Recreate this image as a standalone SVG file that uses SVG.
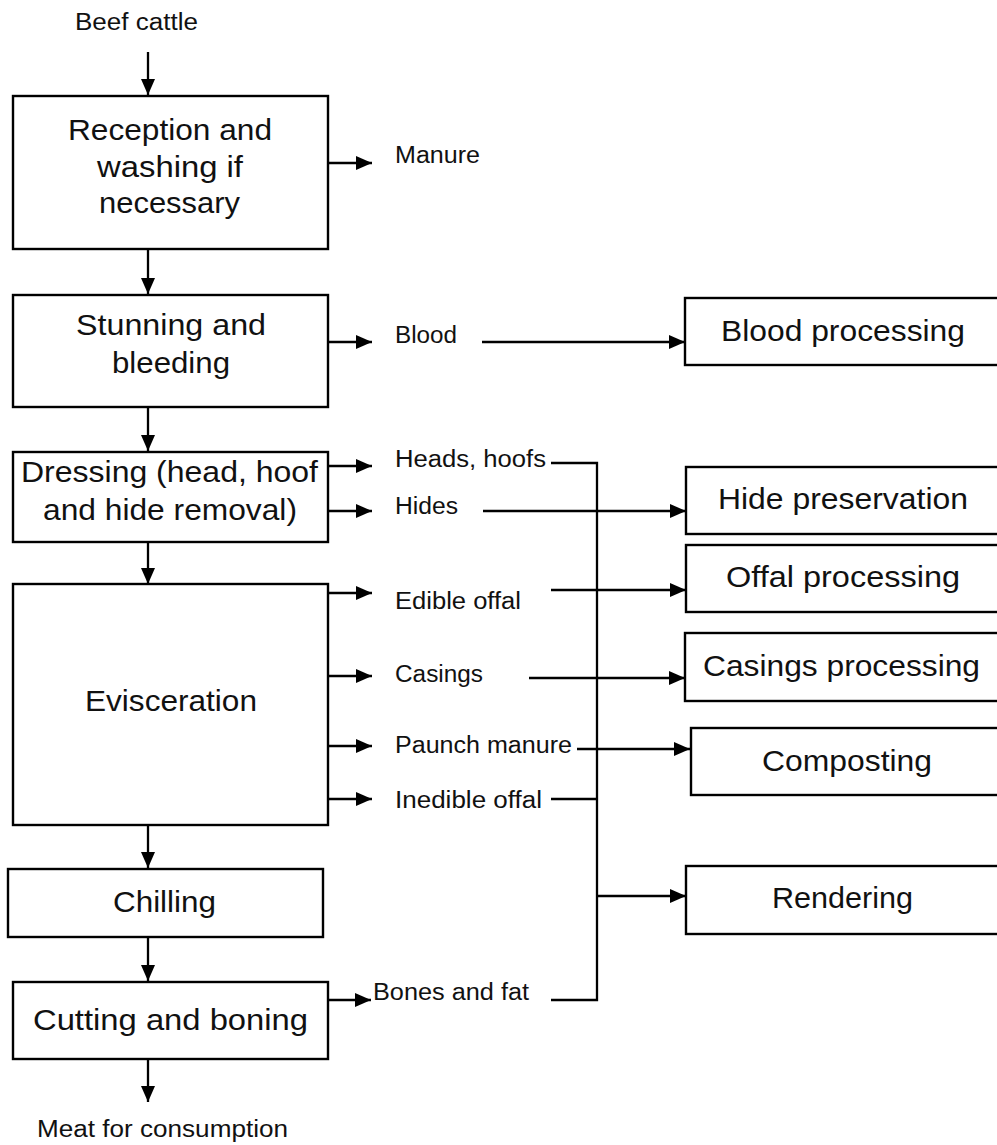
<svg xmlns="http://www.w3.org/2000/svg" width="997" height="1145" viewBox="0 0 997 1145">
<style>
.box{fill:#fff;stroke:#000;stroke-width:2.4}
.ln{fill:none;stroke:#000;stroke-width:2.3}
.ar{fill:none;stroke:#000;stroke-width:2.3;marker-end:url(#ah)}
.bt{font-family:"Liberation Sans",Arial,sans-serif;font-size:29px;fill:#111}
.lt{font-family:"Liberation Sans",Arial,sans-serif;font-size:23.5px;fill:#111}
</style>
<defs>
<marker id="ah" viewBox="0 0 16 14" refX="16" refY="7" markerWidth="16" markerHeight="14" markerUnits="userSpaceOnUse" orient="auto">
<path d="M0,0 L16,7 L0,14 z" fill="#000"/>
</marker>
</defs>
<rect width="997" height="1145" fill="#fff"/>

<g id="connectors">
<line class="ar" x1="148" y1="52" x2="148" y2="95"/>
<line class="ar" x1="328" y1="163" x2="372" y2="163"/>
<line class="ar" x1="148" y1="249" x2="148" y2="294"/>
<line class="ar" x1="328" y1="342" x2="372" y2="342"/>
<line class="ar" x1="482" y1="342" x2="685" y2="342"/>
<line class="ar" x1="148" y1="407" x2="148" y2="451"/>
<line class="ar" x1="328" y1="466" x2="372" y2="466"/>
<line class="ar" x1="326" y1="511" x2="372" y2="511"/>
<polyline class="ln" points="551,463 597,463 597,1000 551,1000"/>
<line class="ar" x1="483" y1="511" x2="686" y2="511"/>
<line class="ar" x1="148" y1="542" x2="148" y2="584"/>
<line class="ar" x1="326" y1="593" x2="372" y2="593"/>
<line class="ar" x1="551" y1="590" x2="686" y2="590"/>
<line class="ar" x1="326" y1="676" x2="372" y2="676"/>
<line class="ar" x1="529" y1="678" x2="685" y2="678"/>
<line class="ar" x1="326" y1="746" x2="372" y2="746"/>
<line class="ar" x1="577" y1="749" x2="690" y2="749"/>
<line class="ar" x1="326" y1="799" x2="372" y2="799"/>
<line class="ln" x1="551" y1="799" x2="597" y2="799"/>
<line class="ar" x1="597" y1="896" x2="686" y2="896"/>
<line class="ar" x1="148" y1="825" x2="148" y2="868"/>
<line class="ar" x1="148" y1="937" x2="148" y2="981"/>
<line class="ar" x1="328" y1="1000" x2="371" y2="1000"/>
<line class="ar" x1="148" y1="1059" x2="148" y2="1102"/>
</g>

<g id="beef-cattle"><text class="lt" x="75" y="30" textLength="123" lengthAdjust="spacingAndGlyphs">Beef cattle</text></g>

<g id="reception">
<rect class="box" x="13" y="96" width="315" height="153"/>
<text class="bt" x="68" y="140" textLength="204" lengthAdjust="spacingAndGlyphs">Reception and</text>
<text class="bt" x="97" y="177" textLength="146" lengthAdjust="spacingAndGlyphs">washing if</text>
<text class="bt" x="99" y="213" textLength="141" lengthAdjust="spacingAndGlyphs">necessary</text>
</g>
<g id="manure"><text class="lt" x="395" y="163" textLength="85" lengthAdjust="spacingAndGlyphs">Manure</text></g>

<g id="stunning">
<rect class="box" x="13" y="295" width="315" height="112"/>
<text class="bt" x="76" y="335" textLength="190" lengthAdjust="spacingAndGlyphs">Stunning and</text>
<text class="bt" x="112" y="373" textLength="118" lengthAdjust="spacingAndGlyphs">bleeding</text>
</g>
<g id="blood"><text class="lt" x="395" y="343" textLength="62" lengthAdjust="spacingAndGlyphs">Blood</text></g>
<g id="blood-processing">
<rect class="box" x="685" y="298" width="320" height="67"/>
<text class="bt" x="721" y="341" textLength="244" lengthAdjust="spacingAndGlyphs">Blood processing</text>
</g>

<g id="dressing">
<rect class="box" x="13" y="452" width="315" height="90"/>
<text class="bt" x="21" y="482" textLength="297" lengthAdjust="spacingAndGlyphs">Dressing (head, hoof</text>
<text class="bt" x="43" y="520" textLength="254" lengthAdjust="spacingAndGlyphs">and hide removal)</text>
</g>
<g id="heads-hoofs"><text class="lt" x="395" y="467" textLength="151" lengthAdjust="spacingAndGlyphs">Heads, hoofs</text></g>
<g id="hides"><text class="lt" x="395" y="514" textLength="63" lengthAdjust="spacingAndGlyphs">Hides</text></g>
<g id="hide-preservation">
<rect class="box" x="686" y="467" width="320" height="67"/>
<text class="bt" x="718" y="509" textLength="250" lengthAdjust="spacingAndGlyphs">Hide preservation</text>
</g>

<g id="evisceration">
<rect class="box" x="13" y="584" width="315" height="241"/>
<text class="bt" x="85" y="711" textLength="172" lengthAdjust="spacingAndGlyphs">Evisceration</text>
</g>
<g id="edible-offal"><text class="lt" x="395" y="609" textLength="126" lengthAdjust="spacingAndGlyphs">Edible offal</text></g>
<g id="offal-processing">
<rect class="box" x="686" y="545" width="320" height="67"/>
<text class="bt" x="726" y="587" textLength="234" lengthAdjust="spacingAndGlyphs">Offal processing</text>
</g>
<g id="casings"><text class="lt" x="395" y="682" textLength="88" lengthAdjust="spacingAndGlyphs">Casings</text></g>
<g id="casings-processing">
<rect class="box" x="685" y="633" width="320" height="68"/>
<text class="bt" x="703" y="676" textLength="277" lengthAdjust="spacingAndGlyphs">Casings processing</text>
</g>
<g id="paunch-manure"><text class="lt" x="395" y="753" textLength="177" lengthAdjust="spacingAndGlyphs">Paunch manure</text></g>
<g id="composting">
<rect class="box" x="691" y="728" width="315" height="67"/>
<text class="bt" x="762" y="771" textLength="170" lengthAdjust="spacingAndGlyphs">Composting</text>
</g>
<g id="inedible-offal"><text class="lt" x="395" y="808" textLength="147" lengthAdjust="spacingAndGlyphs">Inedible offal</text></g>
<g id="rendering">
<rect class="box" x="686" y="866" width="320" height="68"/>
<text class="bt" x="772" y="908" textLength="141" lengthAdjust="spacingAndGlyphs">Rendering</text>
</g>

<g id="chilling">
<rect class="box" x="8" y="869" width="315" height="68"/>
<text class="bt" x="113" y="912" textLength="103" lengthAdjust="spacingAndGlyphs">Chilling</text>
</g>
<g id="cutting">
<rect class="box" x="13" y="982" width="315" height="77"/>
<text class="bt" x="33" y="1030" textLength="275" lengthAdjust="spacingAndGlyphs">Cutting and boning</text>
</g>
<g id="bones-fat"><text class="lt" x="373" y="1000" textLength="156" lengthAdjust="spacingAndGlyphs">Bones and fat</text></g>
<g id="meat"><text class="lt" x="37" y="1137" textLength="251" lengthAdjust="spacingAndGlyphs">Meat for consumption</text></g>
</svg>
